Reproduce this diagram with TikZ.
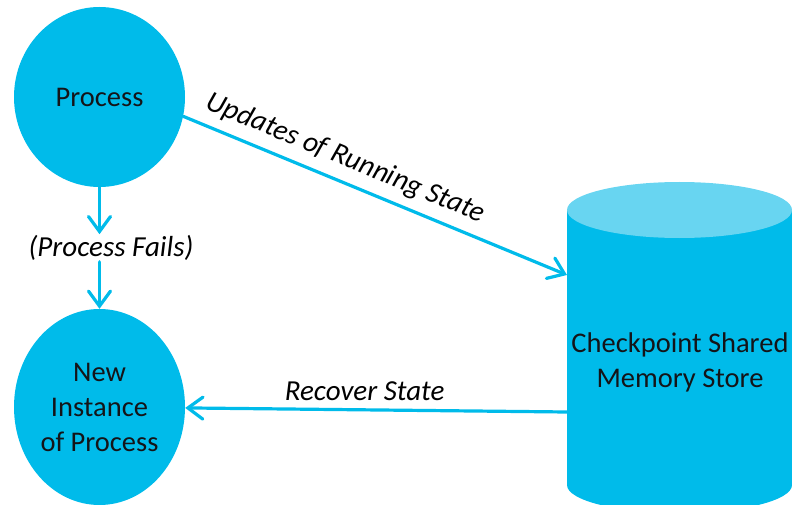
\documentclass[tikz,border=0pt]{standalone}
\usepackage{fontspec}
\setmainfont{Carlito}
\usepackage{tikz}
\usetikzlibrary{arrows.meta,positioning,shapes.geometric}
\definecolor{procblue}{RGB}{0,187,234}
\definecolor{toplight}{RGB}{104,213,241}
\definecolor{txtdark}{RGB}{20,20,24}

\begin{document}
\begin{tikzpicture}[x=1pt,y=-1pt,
    bubble/.style={ellipse,fill=procblue,inner sep=0pt,text=txtdark,align=center,
      font=\fontsize{28.5}{35}\selectfont},
    flow/.style={draw=procblue,line width=3.2pt,line cap=round,
      -{Straight Barb[length=15pt,width=22pt,line cap=round]}},
    lbl/.style={font=\fontsize{29}{35}\selectfont\itshape,text=black,inner sep=1pt}]
  \useasboundingbox (0,0) rectangle (792,505);
  \clip (0,0) rectangle (792,505);
  % the two process bubbles
  \node[bubble,minimum width=171pt,minimum height=180pt] (proc) at (99.5,97) {Process};
  \node[bubble,minimum width=171pt,minimum height=196pt] (newp) at (99.5,407) {New\\Instance\\of Process};
  % checkpoint store cylinder
  \fill[procblue] (567,210) -- (567,485) arc[start angle=180,end angle=360,x radius=112.5,y radius=-28] -- (792,210) -- cycle;
  \fill[toplight] (679.5,210) ellipse[x radius=112.5,y radius=28];
  \node[text=txtdark,align=center,font=\fontsize{28.5}{35}\selectfont] (store) at (680,362) {Checkpoint Shared\\Memory Store};
  \coordinate (storein) at (567,275);
  \coordinate (storeout) at (567,412);
  % failure path
  \node[lbl] (fails) at (111,248) {(Process Fails)};
  \draw[flow] (proc.south) -- (proc.south |- fails.north);
  \draw[flow] (proc.south |- fails.south) -- (newp.north);
  % state transfer
  \draw[flow] (proc.-13) -- node[lbl,sloped,above=8pt,pos=0.40] {Updates of Running State} (storein);
  \draw[flow] (storeout) -- node[lbl,above=7pt,pos=0.53] {Recover State} (newp);
\end{tikzpicture}
\end{document}
